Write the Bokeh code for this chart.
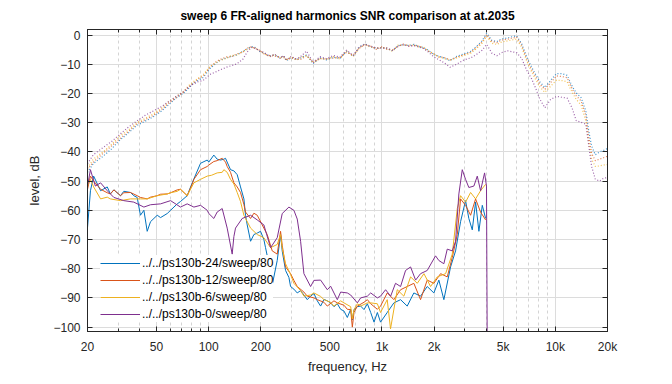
from bokeh.plotting import figure
from bokeh.models import (Range1d, FixedTicker, LinearAxis, LogAxis, Legend, LegendItem,
                          CustomJSTickFormatter)
from bokeh.embed import file_html
from bokeh.resources import INLINE

# ---------------- data ----------------
x_ticks = [20, 50, 100, 200, 500, 1000, 2000, 5000, 10000, 20000]
x_minor = [30, 40, 60, 70, 80, 90, 300, 400, 600, 700, 800, 900,
           3000, 4000, 6000, 7000, 8000, 9000]
y_ticks = [-100, -90, -80, -70, -60, -50, -40, -30, -20, -10, 0]
names = ["../../ps130b-24/sweep/80", "../../ps130b-12/sweep/80",
         "../../ps130b-6/sweep/80", "../../ps130b-0/sweep/80"]
colors = ["#0072BD", "#D95319", "#EDB120", "#7E2F8E"]

# frequency response (dotted)
fr_f = [20, 21.6, 24.6, 27.5, 30.7, 34.5, 38.4, 43, 47.9, 53.5, 59.7, 65, 71.3, 76, 81.5,
        87, 93.1, 101.7, 111, 118, 126.8, 135, 145, 158, 166, 176.6, 186, 197, 210, 225,
        240, 258, 270, 281, 300, 320, 336, 367, 401, 440, 479, 525, 572, 625, 682,
        740, 796, 860, 930, 1000, 1062, 1150, 1240, 1328, 1430, 1530, 1630, 1734, 1850, 1981,
        2120, 2272, 2472, 2700, 2950, 3250, 3518, 3780, 4020, 4300, 4600, 4900, 5300, 5700, 5985,
        6400, 6830, 7300, 7700, 8150, 8700, 9400, 10170, 10900, 11700, 12500, 13200, 14100, 15000, 15600,
        16200, 17000, 18000, 19000, 20000]
fr24 = [-47, -44, -41.5, -39, -36, -33.5, -31, -29.5, -28, -26, -23.5, -21.5, -20, -18.5, -16.5,
        -15.5, -14.5, -11.5, -9.5, -8.5, -7.8, -7.3, -6.8, -5.5, -4.8, -3.9, -4.3, -5.6, -6.3, -7.2,
        -6.8, -7.8, -7.2, -8.8, -7.6, -8.4, -8.0, -6.8, -9.8, -7.8, -8.5, -7.6, -8.0, -5.6, -7.2,
        -4.2, -3.0, -4.0, -4.6, -4.2, -4.6, -5.4, -3.6, -3.3, -3.6, -3.2, -3.9, -4.3, -5.2, -6.6,
        -7.2, -7.8, -8.8, -7.3, -6.5, -5.6, -3.8, -2.0, 0.6, -1.8, -2.2, -1.3, -1.0, -0.5, -0.3,
        -3.0, -7.5, -11.0, -13.5, -16.0, -18.0, -15.5, -13.2, -13.2, -13.8, -17.5, -19.8, -21.5, -26.0, -33.0,
        -38.0, -41.0, -40.0, -39.5, -38.8]
fr12 = [-46, -43.5, -40.5, -38, -35.5, -33, -30.5, -29, -27.5, -25.5, -23, -21.5, -19.5, -18, -16.5,
        -15, -14, -11, -9, -8.2, -7.5, -7.5, -6.5, -5.8, -4.5, -4.0, -4.6, -5.2, -6.6, -7.0,
        -7.2, -7.5, -7.6, -8.4, -7.9, -8.1, -8.5, -7.1, -9.2, -8.1, -8.2, -7.9, -7.7, -5.9, -6.9,
        -4.5, -3.3, -3.8, -4.9, -4.0, -4.9, -5.1, -3.9, -3.1, -3.8, -3.5, -3.7, -4.6, -5.5, -6.3,
        -7.5, -7.6, -8.5, -7.6, -6.8, -5.9, -4.2, -2.4, 0.2, -2.2, -2.6, -1.7, -1.4, -1.0, -0.7,
        -3.5, -8.0, -11.8, -14.2, -16.8, -18.6, -16.3, -14.0, -14.2, -14.6, -18.4, -20.8, -22.6, -27.5, -35.0,
        -40.5, -43.0, -42.5, -42.0, -41.5]
fr6 = [-45.5, -42.5, -40, -37.5, -34.5, -32.5, -30, -28.5, -27, -25, -22.5, -21, -19.5, -17.5, -16,
       -14.8, -13.5, -10.8, -9.4, -8.6, -8, -7, -6.9, -5.6, -5, -4.2, -4.5, -5.4, -6.5, -7.4,
       -6.6, -8, -7.4, -8.6, -7.4, -8.6, -7.8, -7, -9.5, -8, -8.3, -7.4, -8.2, -5.4, -7.4,
       -4.4, -3.2, -4.2, -4.4, -4.4, -4.4, -5.6, -3.4, -3.5, -3.4, -3.4, -4.1, -4.1, -5.4, -6.4,
       -7.4, -8, -8.6, -7.8, -7, -6.2, -4.6, -2.8, -0.4, -2.8, -3.2, -2.4, -2, -1.6, -1.4,
       -4.2, -8.8, -12.6, -15.2, -17.8, -19.6, -17.5, -15.4, -15.6, -16, -19.6, -22, -24, -29.5, -37,
       -42.5, -45, -44.8, -44.5, -44.3]
fr0 = [-44, -41, -38.5, -36.5, -34, -31.5, -29.5, -27.5, -26, -24.5, -22.5, -21, -19.5, -18, -16.8,
       -16, -15.5, -13.5, -12.5, -11.8, -11, -10.5, -9.9, -8.2, -6, -4.2, -4.6, -5.4, -6, -7.4,
       -6.5, -8, -7, -8.5, -7.3, -8.2, -7.6, -5.5, -9.4, -7.4, -8.1, -7, -7.6, -5.2, -7,
       -4, -3.2, -3.9, -4.4, -4.5, -4.4, -5.2, -3.8, -3.3, -3.8, -3.6, -4.1, -4.6, -5.8, -7.4,
       -8.4, -9.4, -11, -10, -8.6, -7.8, -6.6, -5.2, -3.2, -6.2, -7.1, -6, -5.4, -5.8, -6,
       -8, -12, -15, -18.2, -22, -24.9, -22, -21, -21.3, -21.6, -25, -29.3, -29.9, -30.5, -38,
       -45, -49.3, -50, -49, -48.8]

# harmonics (solid)
h24_f = [20, 20.8, 21.7, 23.8, 26, 27.1, 28.4, 31, 32.4, 35.4, 37, 38.7, 40.4, 42.3, 44.2, 46.2,
         50.5, 52.8, 57.7, 60.3, 65.9, 68.8, 75.2, 80.4, 89.8, 98.1, 100.2, 107.1, 112, 117.1,
         122.4, 125.1, 133.7, 139.8, 146.1, 152.7, 159.7, 163.2, 166.9, 174.5, 182.4, 190.7,
         199.2, 208.2, 212.9, 222.6, 232.7, 248.6, 259.9, 265.8, 277.8, 290.4, 296.9, 310.3,
         324.4, 339.2, 354.5, 370.6, 387.4, 404.9, 423.3, 442.5, 462.6, 483.5, 505.5, 528.4,
         552.4, 577.4, 603.6, 631, 659.6, 674.4, 689.5, 720.7, 753.4, 787.6, 823.3, 860.7,
         899.7, 940.5, 981, 1072, 1171, 1280, 1398, 1527, 1669, 1824, 1992, 2129, 2275, 2487,
         2658, 2840, 3035, 3170, 3318, 3467, 3623, 3790, 3962]
h24_db = [-66, -53.3, -48.3, -53.3, -52, -54.4, -53, -55, -53.5, -53.9, -55, -55.6, -61.7, -60, -67.2, -63.9,
          -61.7, -62.5, -61.1, -60, -57.8, -57, -55, -50.6, -43.9, -42.8, -43.5, -41.1, -42.5, -42.8,
          -42.5, -42.2, -46.1, -46.5, -47.8, -52, -56.1, -61.7, -65, -70.6, -68.3, -67.8,
          -67.2, -70, -72.8, -78.3, -85.6, -77.2, -68.3, -74, -80.6, -83, -86.1, -87,
          -88.3, -87.5, -89, -90.6, -89.4, -88.5, -91, -92.8, -90.5, -91, -91.7, -93,
          -92, -93.9, -94.5, -96.7, -93.9, -97.5, -94, -93, -92.8, -94, -92, -95,
          -98.3, -95, -98.3, -95, -91.7, -90.6, -92.8, -88.3, -89.4, -86.1, -88.3, -83.9, -90.6, -79.4,
          -73.9, -63.9, -56.7, -62.8, -66.7, -57.2, -67.2, -58.3, -62.8]

h12_f = [20, 20.8, 21.7, 23.8, 26, 27.1, 28.4, 31, 32.4, 35.4, 38.7, 40.4, 44.2, 46.2, 50.5, 52.8,
         57.7, 60.3, 65.9, 68.8, 75.2, 80.4, 82.2, 89.8, 98.1, 100.2, 107.1, 112, 119.7, 125.1,
         127.9, 133.7, 139.8, 146.1, 152.7, 159.7, 163.2, 174.5, 182.4, 190.7, 203.7, 217.7,
         232.7, 248.6, 259.9, 265.8, 277.8, 296.9, 310.3, 324.4, 354.5, 370.6, 404.9, 423.3,
         462.6, 483.5, 528.4, 552.4, 603.6, 631, 659.6, 674.4, 689.5, 720.7, 787.6, 823.3,
         860.7, 940.5, 981, 1072, 1171, 1280, 1398, 1527, 1669, 1824, 1992, 2178, 2380, 2544,
         2719, 2840, 3035, 3245, 3467, 3705, 3962]
h12_db = [-52.8, -48.3, -50, -52.8, -54, -54.4, -53, -55, -54, -53.9, -55, -55.6, -56.1, -55.5, -55, -54.5,
          -54.4, -54, -53, -52.8, -55, -51, -49.4, -46.1, -45, -44.5, -43.3, -43, -42.2, -43.5,
          -45, -47, -50.6, -52, -53.9, -58, -60.6, -62.8, -61, -61.7, -65, -68.3,
          -73.9, -75, -67.2, -72, -79.4, -81.7, -84, -86.1, -88, -89.4, -90, -90.6,
          -91.5, -92.8, -91, -91.7, -92.5, -93.9, -94, -100, -95, -92.8, -91.5, -90.6,
          -92, -93.9, -92.8, -88.3, -90.6, -87.2, -86.1, -85, -90.6, -83.9, -85, -81.7, -82.8, -76.1,
          -68.3, -56.1, -58.3, -61.7, -56.1, -60.6, -63.3]

h6_f = [20, 20.8, 21.7, 23.8, 26, 27.1, 31, 35.4, 40.4, 44.2, 50.5, 57.7, 60.3, 65.9, 68.8, 75.2,
        82.2, 89.8, 98.1, 104, 112, 119.7, 122.4, 127.9, 133.7, 139.8, 146.1, 152.7, 159.7, 174.5,
        190.7, 208.2, 227.6, 248.6, 259.9, 265.8, 277.8, 296.9, 310.3, 339.2, 354.5, 387.4,
        404.9, 442.5, 462.6, 505.5, 528.4, 577.4, 603.6, 659.6, 674.4, 689.5, 720.7, 753.4,
        823.3, 860.7, 940.5, 981, 1072, 1120, 1225, 1337, 1462, 1598, 1746, 1907, 2084, 2328,
        2544, 2719, 2840, 3035, 3245, 3467, 3705, 3962]
h6_db = [-51.7, -49.4, -52, -56.1, -55.5, -56.1, -56.7, -56.1, -56.1, -56.1, -55, -54.4, -54, -53.5, -52.8, -55,
         -50.6, -49.4, -48.3, -48, -47.2, -47, -46.1, -47, -49.4, -51, -53.9, -57, -61.7, -66.1,
         -68.3, -69.4, -72.8, -71.7, -68.3, -73, -78.3, -82, -85, -87.5, -89.4, -89,
         -88.3, -89.5, -90.6, -91.5, -92.8, -91, -91.7, -93, -97.2, -94, -92, -92.8,
         -91.7, -91.7, -92, -95, -90.6, -100.6, -87.2, -89.4, -82.8, -85, -81.7, -86.1, -82.8, -81.7,
         -75, -59.4, -55, -57.2, -53.9, -56.1, -53.3, -51.1]

h0_f = [20, 20.8, 21.5, 22.2, 23.8, 26, 28.4, 32.4, 37, 42.3, 46.2, 52.8, 60.3, 68.8, 75.2, 82.2,
        89.8, 98.1, 100.2, 107.1, 112, 119.7, 127.9, 136.7, 139.8, 142.9, 156.1, 174.5, 190.7,
        208.2, 227.6, 248.6, 265.8, 290.4, 310.3, 324.4, 339.2, 354.5, 387.4, 404.9, 442.5,
        483.5, 505.5, 552.4, 577.4, 631, 659.6, 720.7, 753.4, 823.3, 860.7, 940.5, 981, 1049,
        1122, 1197, 1280, 1368, 1462, 1563, 1669, 1824, 2037, 2129, 2275, 2380, 2544, 2658,
        2777, 2905, 3035, 3170, 3390, 3546, 3705, 3908, 4008, 4049]
h0_db = [-51.7, -46.1, -49, -51.7, -50.6, -53.3, -55.6, -56.7, -57.2, -58.9, -58.1, -57.8, -56.7, -58.9, -57.8, -58.9,
         -58.3, -60, -61.1, -62.8, -60.6, -59.4, -66.1, -75, -69, -66.1, -62.8, -61.7, -63.3,
         -65, -72.8, -69.4, -61.1, -58.9, -60, -63, -70.6, -81.7, -86.1, -84, -83.9,
         -87.2, -86, -90.6, -88, -88.3, -89, -91.7, -90, -89.4, -88.3, -90, -89.4, -87.2,
         -89.4, -85, -86.1, -80.6, -79.4, -83.9, -81.7, -80.6, -75.6, -77.2, -78.3, -73.3, -73.9, -70.6,
         -54.4, -46.1, -49.4, -52.2, -51.7, -48.3, -53.3, -47.2, -51.7, -110]

# ---------------- figure ----------------
p = figure(width=656, height=376, x_axis_type="log",
           x_range=Range1d(20, 20000), y_range=Range1d(-101.5, 1.9),
           output_backend="svg", toolbar_location=None,
           min_border_left=87, min_border_right=49, min_border_top=29, min_border_bottom=37)
p.background_fill_color = "white"
p.border_fill_color = "white"
p.outline_line_color = "#262626"
p.outline_line_width = 1

FONT = "Liberation Sans"
AX = "#262626"

p.title.text = "sweep 6 FR-aligned harmonics SNR comparison at at.2035"
p.title.align = "center"
p.title.vertical_align = "top"
p.title.text_font = FONT
p.title.text_font_size = "12px"
p.title.text_font_style = "bold"
p.title.text_color = "#000000"
p.title.standoff = 9

fmt = CustomJSTickFormatter(code="return tick >= 1000 ? (tick/1000) + 'k' : String(tick);")
blank = CustomJSTickFormatter(code="return '';")
xt = FixedTicker(ticks=x_ticks, minor_ticks=x_minor)
yt = FixedTicker(ticks=y_ticks, minor_ticks=[])

xa = p.xaxis[0]
xa.ticker = xt
xa.formatter = fmt
ya = p.yaxis[0]
ya.ticker = yt

for ax in (xa, ya):
    ax.axis_line_color = AX
    ax.major_tick_line_color = AX
    ax.minor_tick_line_color = AX
    ax.major_tick_in = 5
    ax.major_tick_out = 0
    ax.minor_tick_in = 3
    ax.minor_tick_out = 0
    ax.major_label_text_font = FONT
    ax.major_label_text_font_size = "12px"
    ax.major_label_text_color = AX
    ax.axis_label_text_font = FONT
    ax.axis_label_text_font_size = "13px"
    ax.axis_label_text_font_style = "normal"
    ax.axis_label_text_color = AX

xa.axis_label = "frequency, Hz"
xa.major_label_standoff = 8
xa.axis_label_standoff = 2
ya.axis_label = "level, dB"
ya.major_label_standoff = 7
ya.axis_label_standoff = 8

# mirrored axes (box)
top = LogAxis(ticker=xt, formatter=blank)
right = LinearAxis(ticker=yt, formatter=blank)
for ax in (top, right):
    ax.axis_line_color = AX
    ax.major_tick_line_color = AX
    ax.minor_tick_line_color = AX
    ax.major_tick_in = 5
    ax.major_tick_out = 0
    ax.minor_tick_in = 3
    ax.minor_tick_out = 0
    ax.major_label_standoff = 0
p.add_layout(top, "above")
p.add_layout(right, "right")

# grids
p.xgrid.ticker = xt
p.ygrid.ticker = yt
p.xgrid.grid_line_color = "#dcdcdc"
p.ygrid.grid_line_color = "#dcdcdc"
p.xgrid.minor_grid_line_color = "#d4d4d4"
p.xgrid.minor_grid_line_dash = "3 3"
p.ygrid.minor_grid_line_color = None

# lines
h_f = [h24_f, h12_f, h6_f, h0_f]
h_db = [h24_db, h12_db, h6_db, h0_db]
frs = [fr24, fr12, fr6, fr0]
items = []
for i in range(4):
    r = p.line(h_f[i], h_db[i], line_color=colors[i], line_width=1)
    p.line(fr_f, frs[i], line_color=colors[i], line_width=1.2, line_dash="1 2", line_alpha=0.75)
    items.append(LegendItem(label=names[i], renderers=[r]))

leg = Legend(items=items, location=(13, 9))
leg.label_text_font = FONT
leg.label_text_font_size = "12px"
leg.label_text_color = "#000000"
leg.glyph_width = 40
leg.glyph_height = 16
leg.label_height = 16
leg.spacing = 1
leg.padding = 1
leg.margin = 0
leg.label_standoff = 2
leg.border_line_color = None
leg.background_fill_color = "white"
leg.background_fill_alpha = 1.0
p.add_layout(leg, "center")

open("out.html", "w").write(file_html(p, INLINE))
